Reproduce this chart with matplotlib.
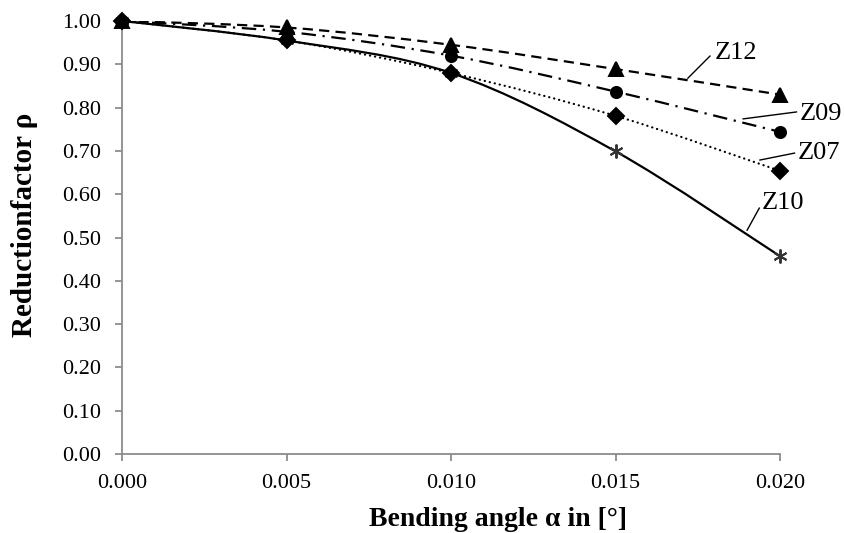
import numpy as np
import matplotlib
matplotlib.use("Agg")
import matplotlib.pyplot as plt
from matplotlib.path import Path
from matplotlib.patches import PathPatch
from matplotlib.ticker import FormatStrFormatter

plt.rcParams['font.family'] = ['Liberation Serif', 'DejaVu Serif']

# bending angle alpha in [deg]
angle = [0.000, 0.005, 0.010, 0.015, 0.020]

# reduction factor rho per specimen
z12 = [1.00, 0.985, 0.945, 0.889, 0.830]
z09 = [1.00, 0.975, 0.920, 0.837, 0.744]
z07 = [1.00, 0.955, 0.880, 0.781, 0.654]
z10 = [1.00, 0.955, 0.880, 0.699, 0.457]

series_names = ["Z12", "Z09", "Z07", "Z10"]


def smooth_path(x, y):
    """Bezier path through the points, like a spreadsheet smoothed line."""
    pts = np.column_stack([x, y])
    n = len(pts)
    verts = [pts[0]]
    codes = [Path.MOVETO]
    for i in range(n - 1):
        p0 = pts[i - 1] if i > 0 else pts[i]
        p1 = pts[i]
        p2 = pts[i + 1]
        p3 = pts[i + 2] if i + 2 < n else pts[i + 1]
        c1 = p1 + (p2 - p0) / 6.0
        c2 = p2 - (p3 - p1) / 6.0
        verts += [c1, c2, p2]
        codes += [Path.CURVE4] * 3
    return Path(verts, codes)


fig = plt.figure(figsize=(8.45, 5.33), dpi=100)
ax = fig.add_axes([0.1444, 0.148, 0.7787, 0.8126])

styles = {
    "Z12": dict(ls=(0, (4.6, 2.8)), marker="^", ms=9.5),
    "Z09": dict(ls=(0, (6.5, 3, 1, 3)), marker="o", ms=8),
    "Z07": dict(ls=(0, (0.1, 2.2)), marker="D", ms=8),
    "Z10": dict(ls="-", marker=(6, 2, 0), ms=10),
}
data = {"Z12": z12, "Z09": z09, "Z07": z07, "Z10": z10}

for name in series_names:
    st = styles[name]
    patch = PathPatch(smooth_path(angle, data[name]), fill=False,
                      edgecolor="black", lw=1.6, linestyle=st["ls"],
                      capstyle="round" if name == "Z07" else "butt", zorder=3)
    ax.add_patch(patch)
    mc = "#333333" if name == "Z10" else "black"
    ax.plot(angle, data[name], ls="none", marker=st["marker"], ms=st["ms"],
            color=mc, mec=mc, mew=1.4, clip_on=False,
            zorder=3.5 if name == "Z10" else 4)

# series labels with leader lines
labels = [
    ("Z12", (0.01800, 0.926), (0.01720, 0.868), (0.01787, 0.919)),
    ("Z09", (0.02060, 0.785), (0.01888, 0.774), (0.02050, 0.790)),
    ("Z07", (0.02055, 0.695), (0.01939, 0.679), (0.02044, 0.695)),
    ("Z10", (0.01945, 0.580), (0.01900, 0.517), (0.01937, 0.568)),
]
for name, txt, a, b in labels:
    ax.plot([a[0], b[0]], [a[1], b[1]], color="black", lw=1.0, clip_on=False)
    ax.text(txt[0], txt[1], name, fontsize=19, va="center", ha="left",
            clip_on=False)

ax.set_xlim(0, 0.020)
ax.set_ylim(0, 1.0)
ax.set_xticks(np.arange(0, 0.0201, 0.005))
ax.set_yticks(np.arange(0, 1.001, 0.1))
ax.xaxis.set_major_formatter(FormatStrFormatter("%.3f"))
ax.yaxis.set_major_formatter(FormatStrFormatter("%.2f"))

for side in ["top", "right"]:
    ax.spines[side].set_visible(False)
for side in ["left", "bottom"]:
    ax.spines[side].set_color("#8c8c8c")
    ax.spines[side].set_linewidth(1.3)
ax.tick_params(direction="out", length=5, width=1.3, color="#8c8c8c",
               labelsize=16)
ax.tick_params(axis="x", pad=9)
ax.tick_params(axis="y", pad=10)

ax.set_xlabel("Bending angle α in [°]", fontsize=20, fontweight="bold")
ax.set_ylabel("Reductionfactor ρ", fontsize=21, fontweight="bold")
ax.xaxis.set_label_coords(0.5714, -0.121)
ax.yaxis.set_label_coords(-0.127, 0.529)

fig.savefig("out.png", dpi=100)
